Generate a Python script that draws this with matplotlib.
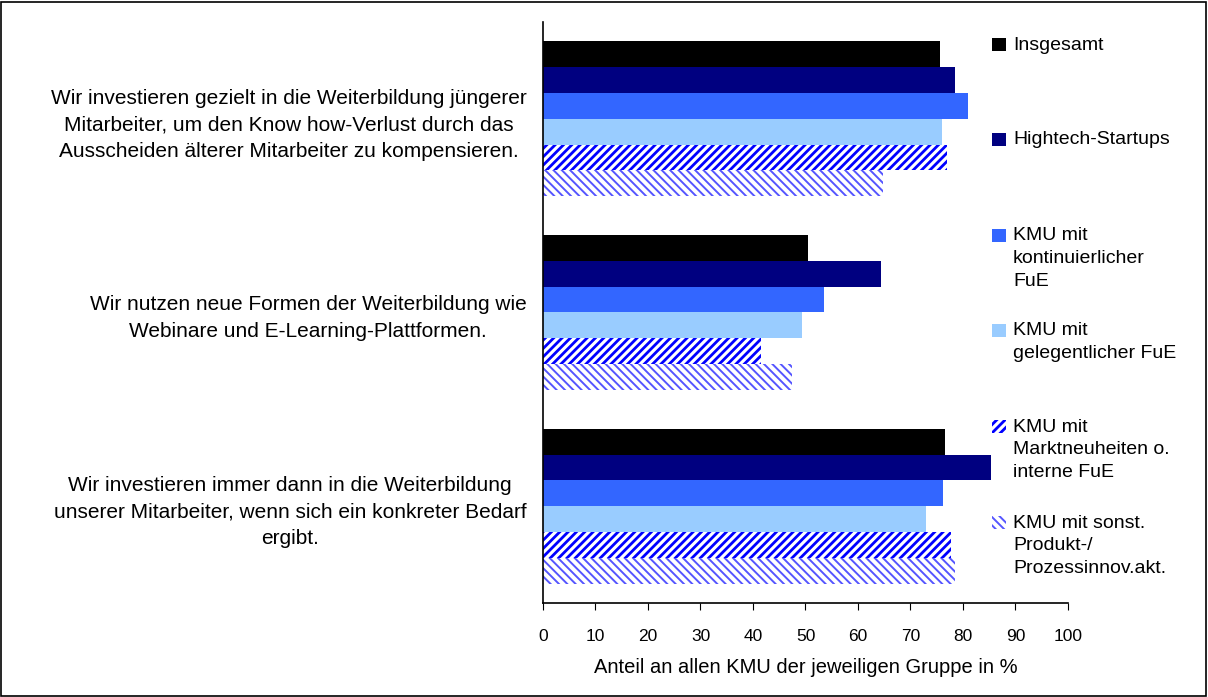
import numpy as np
import matplotlib
matplotlib.use('Agg')
import matplotlib.pyplot as plt
from matplotlib.patches import Rectangle

plt.rcParams['font.family'] = ['Liberation Sans', 'DejaVu Sans']

# Data
categories = [
    'Wir investieren gezielt in die Weiterbildung jüngerer\nMitarbeiter, um den Know how-Verlust durch das\nAusscheiden älterer Mitarbeiter zu kompensieren.',
    'Wir nutzen neue Formen der Weiterbildung wie\nWebinare und E-Learning-Plattformen.',
    'Wir investieren immer dann in die Weiterbildung\nunserer Mitarbeiter, wenn sich ein konkreter Bedarf\nergibt.',
]
series_names = [
    'Insgesamt',
    'Hightech-Startups',
    'KMU mit\nkontinuierlicher\nFuE',
    'KMU mit\ngelegentlicher FuE',
    'KMU mit\nMarktneuheiten o.\ninterne FuE',
    'KMU mit sonst.\nProdukt-/\nProzessinnov.akt.',
]
insgesamt = [75.6, 50.5, 76.6]
hightech = [78.5, 64.4, 85.3]
kmu_kontinuierlich = [80.9, 53.5, 76.2]
kmu_gelegentlich = [76.0, 49.3, 73.0]
kmu_marktneuheiten = [76.9, 41.5, 77.7]
kmu_sonst = [64.8, 47.4, 78.5]
values = [insgesamt, hightech, kmu_kontinuierlich, kmu_gelegentlich,
          kmu_marktneuheiten, kmu_sonst]

# Styles: (facecolor, hatch, hatch color, hatch linewidth)
styles = [
    ('#000000', None, None, 1.0),
    ('#000080', None, None, 1.0),
    ('#3366FF', None, None, 1.0),
    ('#99CCFF', None, None, 1.0),
    ('white', '////', '#0000FF', 2.0),
    ('white', '\\\\\\\\', '#5555FF', 1.4),
]

fig = plt.figure(figsize=(12.08, 6.97), dpi=100)
ax = fig.add_axes([0.4495, 0.1349, 0.4346, 0.8335])

y = np.arange(len(categories))
h = 0.8 / len(values)
for j, (vals, st) in enumerate(zip(values, styles)):
    fc, hatch, hc, hlw = st
    plt.rcParams['hatch.linewidth'] = hlw
    offs = y + (j - (len(values) - 1) / 2) * h
    if hatch:
        ax.barh(offs, vals, height=h, color=fc, hatch=hatch, edgecolor=hc, linewidth=0)
    else:
        ax.barh(offs, vals, height=h, color=fc, linewidth=0)

ax.set_ylim(len(categories) - 0.5, -0.5)
ax.set_xlim(0, 100)
ax.set_xticks(range(0, 101, 10))
ax.set_yticks(y)
ax.set_yticklabels(categories, fontsize=15, ha='right', multialignment='center',
                   linespacing=1.5)
ax.tick_params(axis='y', length=0, pad=12)
ax.tick_params(axis='x', length=5, direction='out', labelsize=12.5, pad=14)
ax.set_xlabel('Anteil an allen KMU der jeweiligen Gruppe in %', fontsize=14.5, labelpad=10)
for s in ['top', 'right']:
    ax.spines[s].set_visible(False)
ax.spines['left'].set_linewidth(1.2)
ax.spines['bottom'].set_linewidth(1.2)

# Legend (manual, Excel-like spacing); first-line baselines in pixels
W, H = 1208, 697
leg_baselines = [51, 146, 242, 337, 433, 529]
for name, st, yb in zip(series_names, styles, leg_baselines):
    fc, hatch, hc, hlw = st
    plt.rcParams['hatch.linewidth'] = hlw
    if hatch:
        r = Rectangle((992 / W, 1 - yb / H), 14 / W, 13 / H, transform=fig.transFigure,
                      facecolor=fc, hatch=hatch, edgecolor=hc, linewidth=0)
    else:
        r = Rectangle((992 / W, 1 - yb / H), 14 / W, 13 / H, transform=fig.transFigure,
                      facecolor=fc, linewidth=0)
    fig.patches.append(r)
    fig.text(1013 / W, 1 - (yb - 14.5) / H, name, fontsize=14, va='top', ha='left',
             linespacing=1.43)

# outer frame
fig.patches.append(Rectangle((0.001, 0.0015), 0.997, 0.996, transform=fig.transFigure,
                             fill=False, edgecolor='black', linewidth=1.2))

fig.savefig('out.png', dpi=100)
